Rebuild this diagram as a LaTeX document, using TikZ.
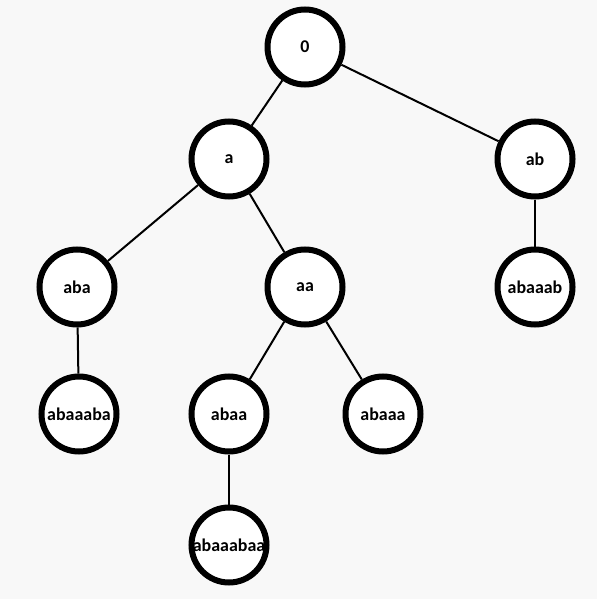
\documentclass[tikz,border=0pt]{standalone}
\usepackage{fontspec}
\setmainfont{Carlito}
\begin{document}
\begin{tikzpicture}[x=1bp,y=-1bp,
  tn/.style={circle,draw=black,fill=white,line width=6bp,minimum size=75bp,inner sep=0pt,font=\fontsize{18}{20}\selectfont\bfseries},
  edge/.style={line width=2bp,black}]
\fill[fill={rgb,255:red,248;green,248;blue,248}] (0,0) rectangle (597,599);
\useasboundingbox (0,0) rectangle (597,599);
\node[tn] (n0) at (305,47) {0};
\node[tn] (na) at (229,159) {a};
\node[tn] (nab) at (535,159) {ab};
\node[tn] (naba) at (77,287) {aba};
\node[tn] (naa) at (305,287) {aa};
\node[tn] (nabaaab) at (535,287) {abaaab};
\node[tn] (nabaaaba) at (79,414) {abaaaba};
\node[tn] (nabaa) at (229,414) {abaa};
\node[tn] (nabaaa) at (383,414) {abaaa};
\node[tn] (nabaaabaa) at (229,545) {abaaabaa};
\draw[edge] (n0) -- (na);
\draw[edge] (n0) -- (nab);
\draw[edge] (na) -- (naba);
\draw[edge] (na) -- (naa);
\draw[edge] (nab) -- (nabaaab);
\draw[edge] (naba) -- (nabaaaba);
\draw[edge] (naa) -- (nabaa);
\draw[edge] (naa) -- (nabaaa);
\draw[edge] (nabaa) -- (nabaaabaa);
\end{tikzpicture}
\end{document}
